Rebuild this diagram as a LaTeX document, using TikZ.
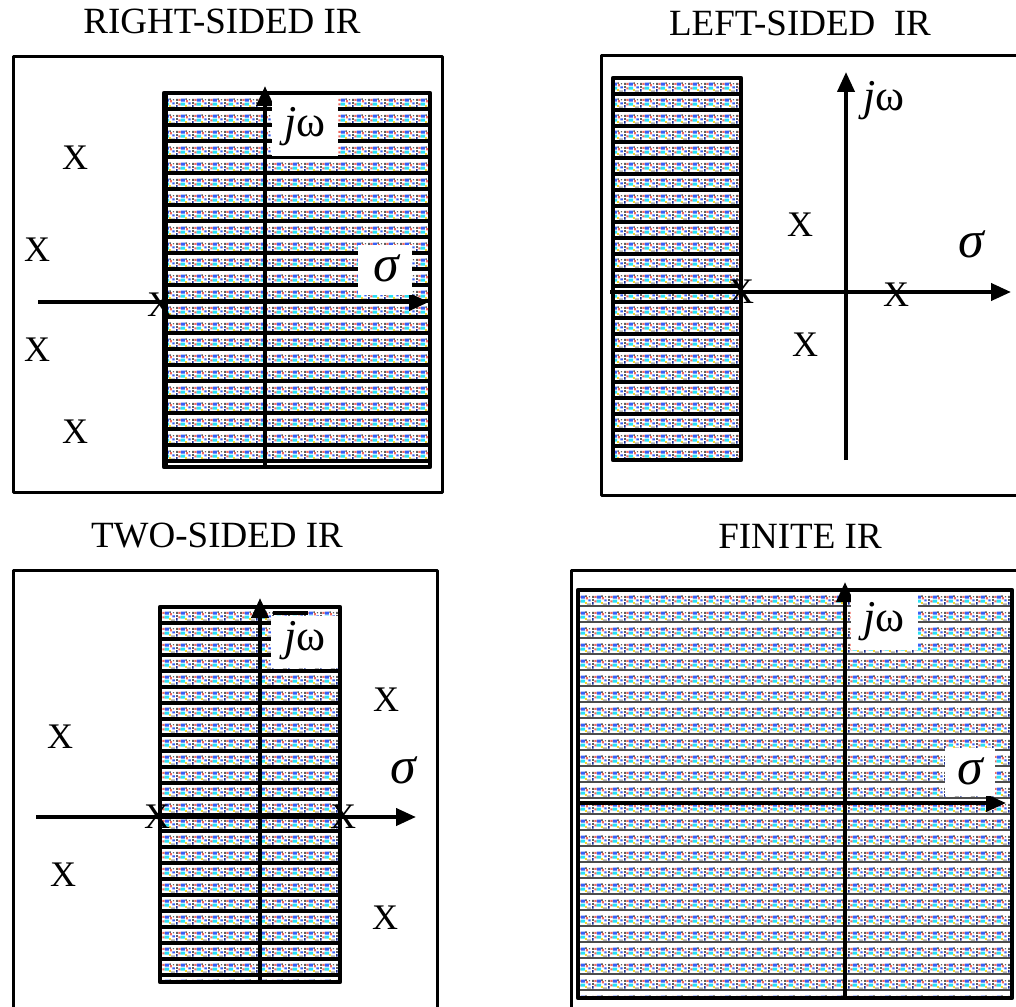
\documentclass[tikz,border=0pt]{standalone}
\usepackage{fontspec}
\setmainfont{Liberation Serif}
\usetikzlibrary{arrows.meta,patterns}
\definecolor{sgray}{RGB}{95,95,95}
\definecolor{sred}{RGB}{240,105,95}
\definecolor{sblue}{RGB}{55,95,245}
\definecolor{scyan}{RGB}{40,225,245}
\definecolor{syel}{RGB}{245,215,40}
\definecolor{sdark}{RGB}{25,45,150}
\definecolor{slight}{RGB}{175,175,175}
\newcommand\sprect[5]{\pgfsetfillcolor{#1}\pgfpathrectangle{\pgfpoint{#2pt}{#3pt}}{\pgfpoint{#4pt}{#5pt}}\pgfusepath{fill}}
\pgfdeclarepatterninherentlycolored{speck}{\pgfpoint{0pt}{0pt}}{\pgfpoint{8pt}{8pt}}{\pgfpoint{8pt}{8pt}}{%
  \sprect{sgray}{0.1}{4.9}{0.9}{1.0}%
  \sprect{sgray}{0.1}{3.2}{0.9}{1.0}%
  \sprect{sdark}{0.1}{1.2}{0.8}{1.4}%
  \sprect{sred}{1.3}{4.8}{1.1}{1.1}%
  \sprect{sred}{1.3}{2.4}{1.1}{1.1}%
  \sprect{sblue}{2.6}{4.5}{2.1}{1.5}%
  \sprect{scyan}{2.5}{2.3}{2.3}{1.6}%
  \sprect{syel}{4.8}{1.6}{1.0}{1.0}%
  \sprect{sred}{5.3}{4.1}{1.0}{1.1}%
  \sprect{sgray}{4.9}{5.4}{0.8}{0.8}%
  \sprect{slight}{5.7}{1.1}{2.2}{0.8}%
  \sprect{sblue}{6.5}{3.0}{1.3}{1.1}%
  \sprect{sgray}{6.8}{5.1}{0.7}{0.7}%
}
\newcommand\roiregion[5]{%
  \fill[white] (#1,#2) rectangle (#3,#4);
  \fill[pattern=speck] (#1,#2) rectangle (#3,#4);
  \pgfmathtruncatemacro\nrows{(#4-#2)/16}
  \foreach \k in {0,...,\nrows} \draw[rowline,#5] (#1,{#2+16*\k}) -- (#3,{#2+16*\k});
  \draw[regborder] (#1,#2) rectangle (#3,#4);
}
\begin{document}
\begin{tikzpicture}[x=0.5pt,y=-0.5pt,
  outerbox/.style={line width=1.5pt,line join=round},
  regborder/.style={line width=2.2pt,line join=round},
  rowline/.style={line width=2pt},
  axisarrow/.style={line width=2pt,-{Triangle[length=10pt,width=8.5pt]}},
  title/.style={font=\fontsize{18.5}{20}\selectfont,inner sep=0pt},
  xmark/.style={font=\fontsize{18}{20}\selectfont,inner sep=0pt},
  jwlab/.style={font=\fontsize{22}{24}\selectfont,inner sep=0pt},
  siglab/.style={font=\fontsize{26}{28}\selectfont\itshape,inner sep=0pt},
  whitebox/.style={fill=white,inner sep=0pt}]
\useasboundingbox (0,0) rectangle (1016,1006);
\fill[white] (0,0) rectangle (1016,1006);

% ---------- Panel 1: right-sided
\node[title] (t1) at (222,21) {RIGHT-SIDED IR};
\draw[outerbox] (13,57) rectangle (442,492);
\roiregion{164}{93}{430}{467}{}
\draw[line width=3pt] (165,93) -- (165,467);
\coordinate (p1jb) at (265,467);
\coordinate (p1jt) at (265,86);
\coordinate (p1sl) at (38,302);
\coordinate (p1sr) at (429,302);
\draw[axisarrow] (p1jb) -- (p1jt);
\draw[axisarrow] (p1sl) -- (p1sr);
\fill[white] (272,98) rectangle (338,156);
\node[jwlab] (jw1) at (305,127) {\textit{j}ω};
\fill[white] (358,245) rectangle (412,295);
\node[siglab] (s1) at (386,268) {σ};
\node[xmark] (x11) at (75,158) {X};
\node[xmark] (x12) at (37,250) {X};
\node[xmark] (x13) at (37,350) {X};
\node[xmark] (x14) at (75,432) {X};
\node[xmark] (x15) at (160,305) {X};

% ---------- Panel 2: left-sided
\node[title] (t2) at (800,23) {LEFT-SIDED\ \ IR};
\draw[outerbox] (1016,56) -- (601,56) -- (601,495) -- (1016,495);
\roiregion{613}{78}{741}{460}{}
\coordinate (p2jb) at (846,460);
\coordinate (p2jt) at (846,72);
\coordinate (p2sl) at (610,292);
\coordinate (p2sr) at (1011,292);
\draw[axisarrow] (p2jb) -- (p2jt);
\draw[axisarrow] (p2sl) -- (p2sr);
\node[jwlab] (jw2) at (884,101) {\textit{j}ω};
\node[siglab] (s2) at (971,244) {σ};
\node[xmark] (x21) at (800,225) {X};
\node[xmark] (x22) at (741,292) {X};
\node[xmark] (x23) at (896,295) {X};
\node[xmark] (x24) at (805,345) {X};

% ---------- Panel 3: two-sided
\node[title] (t3) at (217,536) {TWO-SIDED IR};
\draw[outerbox] (13,1010) -- (13,570) -- (437,570) -- (437,1010);
\roiregion{160}{607}{340}{982}{}
\coordinate (p3jb) at (260,982);
\coordinate (p3jt) at (260,598);
\coordinate (p3sl) at (36,817);
\coordinate (p3sr) at (416,817);
\draw[axisarrow] (p3jb) -- (p3jt);
\draw[axisarrow] (p3sl) -- (p3sr);
\fill[white] (271,616) rectangle (338,668);
\draw[line width=2pt] (273,613) -- (308,613);
\node[jwlab] (jw3) at (305,641) {\textit{j}ω};
\node[siglab] (s3) at (403,770) {σ};
\node[xmark] (x31) at (60,737) {X};
\node[xmark] (x32) at (386,700) {X};
\node[xmark] (x33) at (63,875) {X};
\node[xmark] (x34) at (385,918) {X};
\node[xmark] (x35) at (157,817) {X};
\node[xmark] (x36) at (343,817) {X};

% ---------- Panel 4: finite
\node[title] (t4) at (800,536) {FINITE IR};
\draw[outerbox] (571,1010) -- (571,570) -- (1016,570);
\roiregion{578}{590}{1012}{998}{line width=1.4pt,black!70}
\coordinate (p4jb) at (845,998);
\coordinate (p4jt) at (845,582);
\coordinate (p4sl) at (578,803);
\coordinate (p4sr) at (1006,803);
\draw[axisarrow] (p4jb) -- (p4jt);
\draw[axisarrow] (p4sl) -- (p4sr);
\fill[white] (851,595) rectangle (918,650);
\node[jwlab] (jw4) at (884,622) {\textit{j}ω};
\fill[white] (945,748) rectangle (995,796);
\node[siglab] (s4) at (970,771) {σ};
\end{tikzpicture}
\end{document}
